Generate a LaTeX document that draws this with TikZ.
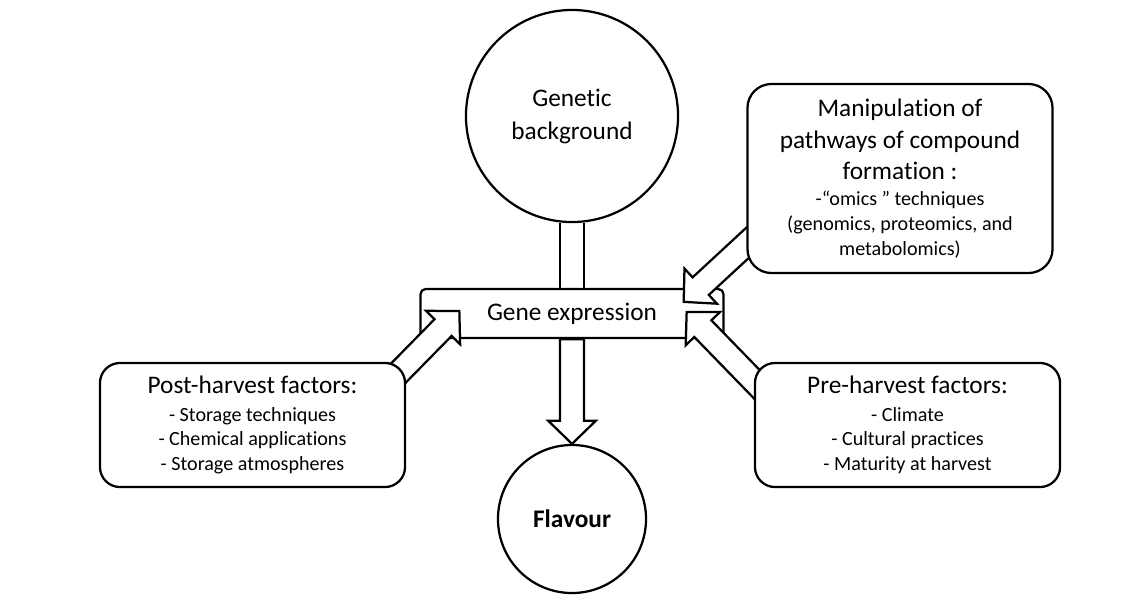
\documentclass[tikz,border=0pt]{standalone}
\usepackage{fontspec}
\setmainfont{Carlito}[Ligatures={TeX,NoCommon}]
\usetikzlibrary{positioning,calc}

\pgfdeclarelayer{back}
\pgfdeclarelayer{mid}
\pgfsetlayers{back,mid,main}

\newcommand{\titlesize}{\fontsize{18}{21.5}\selectfont}
\newcommand{\itemsize}{\fontsize{14.3}{17.5}\selectfont}

% block arrow from #1 (tail) to #2 (tip)
\newcommand{\blockarrow}[2]{%
  \coordinate (hb) at ($(#2)!16.5pt!(#1)$);
  \draw[edgeline] ($(#1)!8.5pt!90:(#2)$) -- ($(hb)!8.5pt!-90:(#1)$)
    -- ($(hb)!17pt!-90:(#1)$) -- (#2) -- ($(hb)!17pt!90:(#1)$)
    -- ($(hb)!8.5pt!90:(#1)$) -- ($(#1)!8.5pt!-90:(#2)$) -- cycle;}

\tikzset{
  edgeline/.style={draw, line width=1.6pt, fill=white},
  factorbox/.style={edgeline, rounded corners=0.5cm, align=center,
    minimum width=7.625cm, minimum height=3.1cm, inner sep=2pt, font=\itemsize},
  bigcircle/.style={edgeline, circle, align=center, inner sep=0pt, font=\titlesize},
  genebox/.style={edgeline, rounded corners=0.13cm, minimum width=7.575cm,
    minimum height=1.225cm, font=\titlesize},
  stem/.style={line width=1.6pt, double=white, double distance=15pt}
}

\begin{document}
\begin{tikzpicture}[x=0.025cm, y=-0.025cm]
  \useasboundingbox (0,0) rectangle (1143,595);

  % Circles
  \node[bigcircle, minimum size=5.3cm] (gen) at (572,116) {Genetic\\[2pt]background};
  \node[bigcircle, minimum size=3.7cm, font=\titlesize\bfseries] (flav) at (572,519) {Flavour};

  % Factor boxes
  \node[factorbox, rounded corners=0.6cm, minimum height=4.725cm] (manip) at (900,178.5)
    {{\titlesize Manipulation of}\\[5pt] {\titlesize pathways of compound}\\[5pt]
     {\titlesize formation :}\\[1pt] -“omics ” techniques\\ (genomics, proteomics, and\\ metabolomics)};
  \node[factorbox] (post) at (252.5,425)
    {{\titlesize Post-harvest factors:}\\[2pt] - Storage techniques\\ - Chemical applications\\ - Storage atmospheres};
  \node[factorbox] (pre) at (907.5,425)
    {{\titlesize Pre-harvest factors:}\\[2pt] - Climate\\ - Cultural practices\\ - Maturity at harvest};

  % Gene expression and the arrows into it
  \begin{pgfonlayer}{mid}
    \node[genebox] (gene) at (572,313.5) {Gene expression};
    \coordinate (mtip) at ($(gene.north east)+(-41,14)$);
    \coordinate (mtail) at ($(manip.west)+(34,34)$);
    \coordinate (ptip) at ($(gene.west)+(40,-2.5)$);
    \coordinate (ptail) at ($(post.east)+(-45,-14)$);
    \coordinate (rtip) at ($(gene.east)+(-38,-1.5)$);
    \coordinate (rtail) at ($(pre.west)+(30,-13)$);
    \blockarrow{mtail}{mtip}
    \blockarrow{ptail}{ptip}
    \blockarrow{rtail}{rtip}
    \blockarrow{gene.south}{flav.north}
  \end{pgfonlayer}

  \begin{pgfonlayer}{back}
    \draw[stem] (gen) -- (gene);
  \end{pgfonlayer}
\end{tikzpicture}
\end{document}
